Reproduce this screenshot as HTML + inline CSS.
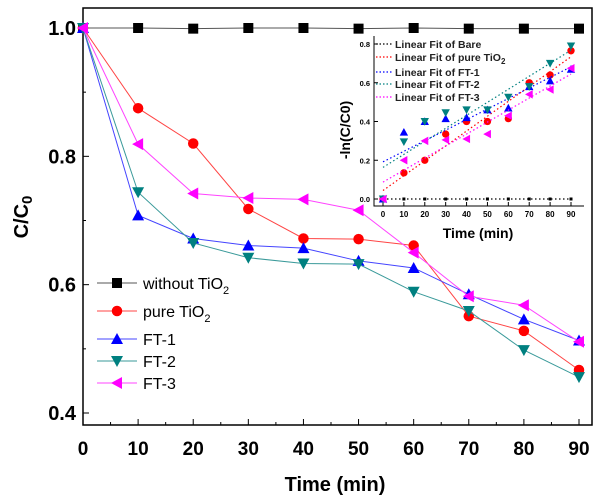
<!DOCTYPE html>
<html><head><meta charset="utf-8"><style>
html,body{margin:0;padding:0;background:#fff;}
svg{display:block;font-family:"Liberation Sans",Arial,sans-serif;}
</style></head><body>
<svg id="chart" width="600" height="501" viewBox="0 0 600 501"></svg>
<script>
const times=[0,10,20,30,40,50,60,70,80,90];
const seriesNames=["without TiO2","pure TiO2","FT-1","FT-2","FT-3"];
const without=[1,1,0.999,1,1,0.999,1,0.999,0.999,0.999];
const pure=[1,0.875,0.82,0.718,0.672,0.671,0.661,0.551,0.528,0.467];
const ft1=[1,0.708,0.672,0.661,0.657,0.637,0.626,0.585,0.546,0.513];
const ft2=[1,0.744,0.665,0.642,0.633,0.632,0.589,0.559,0.498,0.456];
const ft3=[1,0.819,0.742,0.735,0.733,0.716,0.650,0.582,0.568,0.511];
const yTicks=[0.4,0.6,0.8,1.0];
const xTicks=[0,10,20,30,40,50,60,70,80,90];
const inBare=[0,0,0,0,0,0,0,0,0,0];
const inPure=[0,0.135,0.2,0.335,0.4,0.4,0.415,0.6,0.64,0.765];
const inFt1=[0,0.345,0.4,0.415,0.42,0.46,0.47,0.58,0.61,0.67];
const inFt2=[0,0.295,0.4,0.445,0.46,0.46,0.525,0.58,0.7,0.79];
const inFt3=[0,0.2,0.3,0.305,0.31,0.335,0.43,0.54,0.565,0.675];
const inYTicks=[0,0.2,0.4,0.6,0.8];
const fitNames=["Linear Fit of Bare","Linear Fit of pure TiO","Linear Fit of FT-1","Linear Fit of FT-2","Linear Fit of FT-3"];

const NS="http://www.w3.org/2000/svg";
const svg=document.getElementById('chart');
function mk(t,a,p){const e=document.createElementNS(NS,t);for(const k in a)e.setAttribute(k,a[k]);(p||svg).appendChild(e);return e;}
const X=v=>83+(v-0)/90*496;
const Y=v=>28+(1.0-v)/0.6*385;
const IX=v=>383+v/90*188;
const IY=v=>199-v/0.8*155;
const colors=["#000","#f00","#00f","#008080","#f0f"];
const lineColors=["#555","#f44","#44f","#3a9a9a","#f4f"];
const types=["sq","ci","up","dn","lt"];
function marker(g,t,x,y,s,c){
  let e;
  if(t=="sq")e=mk('rect',{x:x-s,y:y-s,width:2*s,height:2*s,fill:c},g);
  else if(t=="ci")e=mk('circle',{cx:x,cy:y,r:s*1.05,fill:c},g);
  else if(t=="up")e=mk('polygon',{points:`${x},${y-s*1.2} ${x-s*1.2},${y+s} ${x+s*1.2},${y+s}`,fill:c},g);
  else if(t=="dn")e=mk('polygon',{points:`${x},${y+s*1.2} ${x-s*1.2},${y-s} ${x+s*1.2},${y-s}`,fill:c},g);
  else e=mk('polygon',{points:`${x-s*1.2},${y} ${x+s},${y-s*1.2} ${x+s},${y+s*1.2}`,fill:c},g);
  
  
}
const fr=mk('rect',{x:83,y:8,width:509,height:417,fill:'none',stroke:'#000','stroke-width':1.5});

xTicks.forEach(t=>{
  mk('line',{x1:X(t),x2:X(t),y1:425,y2:419,stroke:'#000'});
  if(t<90)mk('line',{x1:X(t+5),x2:X(t+5),y1:425,y2:422,stroke:'#000'});
  const tx=mk('text',{x:X(t),y:455,'text-anchor':'middle','font-size':19,'font-weight':'bold'});tx.textContent=t;
  
});
yTicks.forEach(t=>{
  mk('line',{x1:83,x2:89,y1:Y(t),y2:Y(t),stroke:'#000'});
  if(t<1)mk('line',{x1:83,x2:86,y1:Y(t+0.1),y2:Y(t+0.1),stroke:'#000'});
  const tx=mk('text',{x:76,y:Y(t)+7,'text-anchor':'end','font-size':20,'font-weight':'bold'});tx.textContent=t.toFixed(1);
  
});
let t=mk('text',{x:335,y:491,'text-anchor':'middle','font-size':20,'font-weight':'bold'});t.textContent='Time (min)';

t=mk('text',{transform:'translate(28,217) rotate(-90)','text-anchor':'middle','font-size':20,'font-weight':'bold'});
t.innerHTML='C/C<tspan font-size="15" dy="4">0</tspan>';

const all=[without,pure,ft1,ft2,ft3];
all.forEach((d,i)=>{
  const g=mk('g',{});
  
  
  mk('polyline',{points:d.map((v,j)=>X(times[j])+','+Y(v)).join(' '),fill:'none',stroke:lineColors[i],'stroke-width':1},g);
  d.forEach((v,j)=>marker(g,types[i],X(times[j]),Y(v),5,colors[i]));
});
const lg=mk('g',{});
const ly=[283,311,339,361,383];
const lt=['without TiO<tspan font-size="11" dy="5">2</tspan>','pure TiO<tspan font-size="11" dy="5">2</tspan>','FT-1','FT-2','FT-3'];
ly.forEach((y,i)=>{
  const e=mk('g',{},lg);
  mk('line',{x1:97,x2:137,y1:y,y2:y,stroke:lineColors[i]},e);
  marker(e,types[i],117,y,5,colors[i]);
  const tt=mk('text',{x:143,y:y+6,'font-size':16},e);tt.innerHTML=lt[i];
});
const ig=mk('g',{});
mk('polyline',{points:'374,36 374,206 584,206',fill:'none',stroke:'#000','stroke-width':1},ig);
xTicks.forEach(v=>{
  mk('line',{x1:IX(v),x2:IX(v),y1:206,y2:202,stroke:'#000'},ig);
  const tx=mk('text',{x:IX(v),y:217,'text-anchor':'middle','font-size':8,'font-weight':'bold'},ig);tx.textContent=v;
  
});
inYTicks.forEach(v=>{
  mk('line',{x1:374,x2:378,y1:IY(v),y2:IY(v),stroke:'#000'},ig);
  const tx=mk('text',{x:370,y:IY(v)+3,'text-anchor':'end','font-size':7.5,'font-weight':'bold'},ig);tx.textContent=v.toFixed(1);
  
});
t=mk('text',{x:478,y:238,'text-anchor':'middle','font-size':14,'font-weight':'bold'},ig);t.textContent='Time (min)';

t=mk('text',{transform:'translate(350,130) rotate(-90)','text-anchor':'middle','font-size':14,'font-weight':'bold'},ig);t.textContent='-ln(C/C0)';

const ins=[inBare,inPure,inFt1,inFt2,inFt3];
ins.forEach((d,i)=>{
  const n=d.length;let sx=0,sy=0,sxy=0,sxx=0;
  d.forEach((v,j)=>{sx+=times[j];sy+=v;sxy+=times[j]*v;sxx+=times[j]*times[j];});
  const b=(n*sxy-sx*sy)/(n*sxx-sx*sx),a=(sy-b*sx)/n;
  const f=mk('line',{x1:IX(0),y1:IY(a),x2:IX(90),y2:IY(a+b*90),stroke:colors[i],'stroke-width':1.2,'stroke-dasharray':'1.5,2.5'},ig);
  
  d.forEach((v,j)=>marker(ig,types[i],IX(times[j]),IY(v),i==0?1.5:3.5,colors[i]));
});
const fy=[44,57,72,84,97];
fy.forEach((y,i)=>{
  const e=mk('g',{},ig);
  mk('line',{x1:376,x2:393,y1:y,y2:y,stroke:colors[i],'stroke-width':1.2,'stroke-dasharray':'1.5,2'},e);
  const tt=mk('text',{x:395,y:y+4,'font-size':10.5,'font-weight':'bold',fill:'#222'},e);
  tt.innerHTML=fitNames[i]+(i==1?'<tspan font-size="8" dy="3">2</tspan>':'');
});
</script>
</body></html>
